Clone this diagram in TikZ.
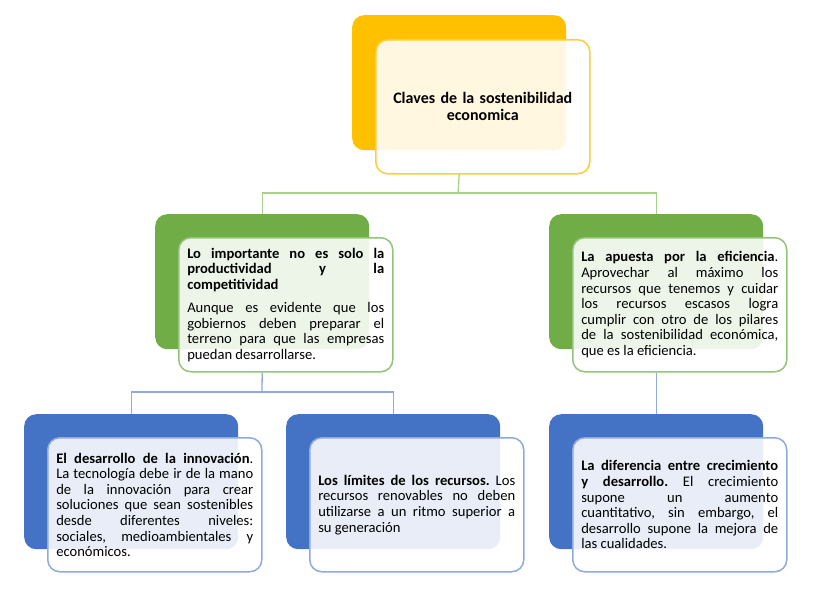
\documentclass[tikz,border=0pt]{standalone}
\usepackage{fontspec}
\setmainfont{Carlito}
\definecolor{orangeC}{HTML}{FFC000}
\definecolor{orangeL}{HTML}{FFCD38}
\definecolor{greenC}{HTML}{70AD47}
\definecolor{greenL}{HTML}{94C47A}
\definecolor{greenK}{HTML}{A9D18E}
\definecolor{blueC}{HTML}{4472C4}
\definecolor{blueL}{HTML}{8FAADC}
\tolerance=10000
\hbadness=10000
\frenchspacing
\begin{document}
\begin{tikzpicture}[x=1pt,y=-1pt,
  backbox/.style={fill=#1, draw=none, rounded corners=12pt, minimum width=214pt, minimum height=135pt, inner sep=0pt, anchor=north west},
  frontbox/.style={fill=white, fill opacity=0.88, text opacity=1, draw=#1, line width=1.5pt, rounded corners=12pt,
    minimum width=214pt, minimum height=134pt, inner xsep=8.5pt, inner ysep=4pt, text width=197pt, align=justify, anchor=north west,
    font=\fontsize{14.6}{15.6}\selectfont},
  conn/.style={draw=#1, line width=1.3pt}
]
\useasboundingbox (0,0) rectangle (837,598);
% top
\node[backbox=orangeC] (topB) at (352,15) {};
\node[frontbox=orangeL, align=center, font=\fontsize{16}{16.8}\selectfont\bfseries] (topF) at (375,39) {Claves de la sostenibilidad\\economica};
% green level
\node[backbox=greenC] (gLB) at (155,214) {};
\node[backbox=greenC] (gRB) at (549,214) {};
\node[frontbox=greenL] (gLF) at (178,237) {\textbf{Lo importante no es solo la\linebreak productividad y la\linebreak competitividad}\par\vspace{7.5pt}Aunque es evidente que los\linebreak gobiernos deben preparar el\linebreak terreno para que las empresas\linebreak puedan desarrollarse.};
\node[frontbox=greenL] (gRF) at (572,237) {\textbf{La apuesta por la eficiencia}.\linebreak Aprovechar al máximo los\linebreak recursos que tenemos y cuidar\linebreak los recursos escasos logra\linebreak cumplir con otro de los pilares\linebreak de la sostenibilidad económica,\linebreak que es la eficiencia.};
% blue level
\node[backbox=blueC] (bLB) at (24,414) {};
\node[backbox=blueC] (bMB) at (286,414) {};
\node[backbox=blueC] (bRB) at (549,414) {};
\node[frontbox=blueL] (bLF) at (47,437) {\textbf{El desarrollo de la innovación}.\linebreak La tecnología debe ir de la mano\linebreak de la innovación para crear\linebreak soluciones que sean sostenibles\linebreak desde diferentes niveles:\linebreak sociales, medioambientales y\linebreak económicos.};
\node[frontbox=blueL] (bMF) at (309,437) {\textbf{Los límites de los recursos.} Los\linebreak recursos renovables no deben\linebreak utilizarse a un ritmo superior a\linebreak su generación};
\node[frontbox=blueL] (bRF) at (572,437) {\textbf{La diferencia entre crecimiento\linebreak y desarrollo.} El crecimiento\linebreak supone un aumento\linebreak cuantitativo, sin embargo, el\linebreak desarrollo supone la mejora de\linebreak las cualidades.};
% connectors
\coordinate (gJ) at (458,193);
\draw[conn=greenK] (topB.south |- topF.south) -- (gJ);
\draw[conn=greenK] (gJ) -| (gLB.north);
\draw[conn=greenK] (gJ) -| (gRB.north);
\coordinate (bJ) at (262,392);
\draw[conn=blueL] (gLB.south |- gLF.south) -- (bJ);
\draw[conn=blueL] (bJ) -| (bLB.north);
\draw[conn=blueL] (bJ) -| (bMB.north);
\draw[conn=blueL] (gRB.south |- gRF.south) -- (bRB.north);
\end{tikzpicture}
\end{document}
